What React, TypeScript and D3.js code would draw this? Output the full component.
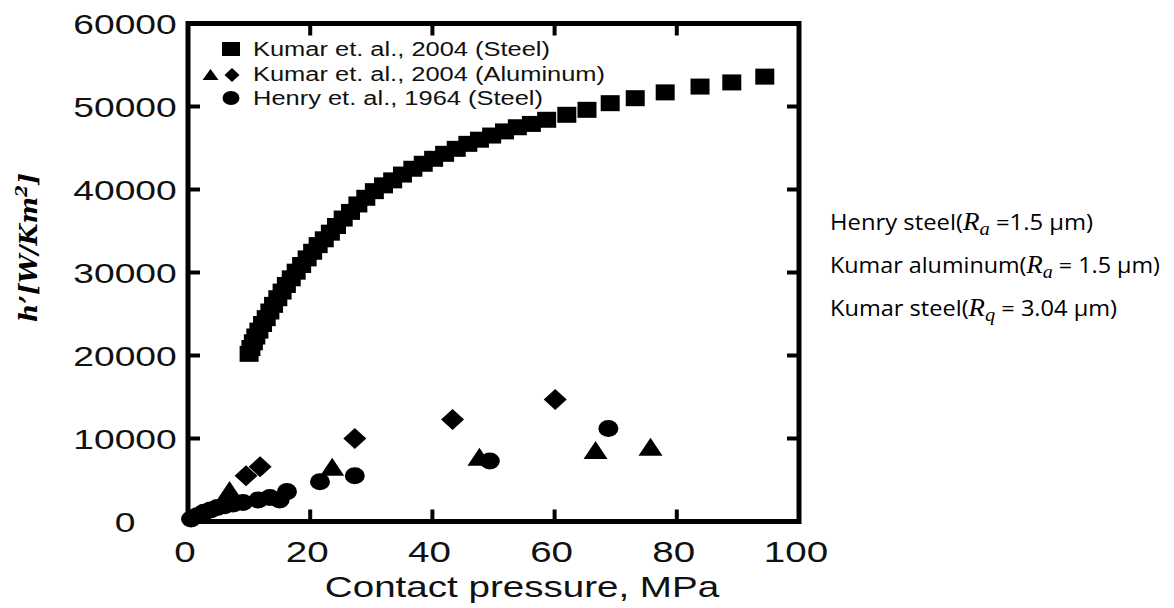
import React from 'react';
import * as d3 from 'd3';

const xTicks = [0, 20, 40, 60, 80, 100];
const yTicks = [0, 10000, 20000, 30000, 40000, 50000, 60000];

const kumarSteelP = [10.0, 10.3, 10.7, 11.1, 11.6, 12.2, 12.8, 13.4, 14.0, 14.7, 15.4, 16.1, 16.9, 17.7, 18.6, 19.5, 20.4, 21.3, 22.3, 23.3, 24.3, 25.4, 26.6, 27.8, 29.1, 30.5, 32.0, 33.5, 35.1, 36.8, 38.5, 40.2, 42.0, 43.9, 45.8, 47.7, 49.7, 51.8, 53.9, 56.2, 58.7, 62.0, 65.3, 69.1, 73.2, 78.1, 83.8, 89.0, 94.4];
const kumarSteelH = [20200, 20900, 21600, 22300, 23000, 23800, 24500, 25300, 26100, 26900, 27700, 28500, 29300, 30100, 30900, 31700, 32500, 33300, 34000, 34800, 35600, 36500, 37300, 38200, 39000, 39800, 40500, 41100, 41800, 42500, 43100, 43700, 44300, 44900, 45500, 46000, 46500, 47000, 47500, 47900, 48400, 49000, 49600, 50400, 51000, 51700, 52400, 52900, 53600];

const kumarAlTriP = [6.8, 23.6, 47.7, 66.7, 75.7];
const kumarAlTriH = [3800, 6600, 7800, 8600, 9000];

const kumarAlDiaP = [9.5, 11.8, 27.3, 43.3, 60.1];
const kumarAlDiaH = [5500, 6600, 10000, 12300, 14700];

const henryP = [0.5, 1.5, 2.6, 3.7, 4.8, 6.0, 7.4, 9.0, 11.5, 13.4, 15.0, 16.2, 21.6, 27.3, 49.4, 68.8];
const henryH = [300, 700, 1100, 1400, 1700, 1900, 2100, 2300, 2600, 2900, 2600, 3600, 4800, 5500, 7300, 11200];

const legendLabels = ['Kumar et. al., 2004 (Steel)', 'Kumar et. al., 2004 (Aluminum)', 'Henry et. al., 1964 (Steel)'];
const legendLengths = [297, 352, 290];

const xTitle = 'Contact pressure, MPa';

const sqPath = (cx: number, cy: number, w: number, h: number) =>
  `M${cx - w / 2},${cy - h / 2}h${w}v${h}h${-w}Z`;
const triPath = (cx: number, cy: number, w: number, h: number) =>
  `M${cx},${cy - h / 2}L${cx + w / 2},${cy + h / 2}L${cx - w / 2},${cy + h / 2}Z`;
const diaPath = (cx: number, cy: number, w: number, h: number) =>
  `M${cx},${cy - h / 2}L${cx + w / 2},${cy}L${cx},${cy + h / 2}L${cx - w / 2},${cy}Z`;

export default function App() {
  const x = d3.scaleLinear().domain([0, 100]).range([188, 799]);
  const y = d3.scaleLinear().domain([0, 60000]).range([521.5, 23.5]);
  const sans = 'Liberation Sans, Arial, sans-serif';
  const stretch = 1.33;
  const innerX = xTicks.filter((t) => t > 0 && t < 100);
  const innerY = yTicks.filter((t) => t > 0 && t < 60000);
  const tl = 12;

  return (
    <svg width={1174} height={608} style={{ position: 'absolute', left: 0, top: 0, background: '#fff' }}>
      <rect x={0} y={0} width={1174} height={608} fill="#fff" />
      {/* frame */}
      <rect x={x(0)} y={y(60000)} width={x(100) - x(0)} height={y(0) - y(60000)} fill="none" stroke="#000" strokeWidth={5} />
      {innerX.map((t) => (
        <g key={'xt' + t}>
          <line x1={x(t)} x2={x(t)} y1={y(0)} y2={y(0) - tl} stroke="#000" strokeWidth={4} />
          <line x1={x(t)} x2={x(t)} y1={y(60000)} y2={y(60000) + tl} stroke="#000" strokeWidth={4} />
        </g>
      ))}
      {innerY.map((t) => (
        <g key={'yt' + t}>
          <line x1={x(0)} x2={x(0) + tl} y1={y(t)} y2={y(t)} stroke="#000" strokeWidth={4} />
          <line x1={x(100)} x2={x(100) - tl} y1={y(t)} y2={y(t)} stroke="#000" strokeWidth={4} />
        </g>
      ))}
      {/* tick labels */}
      {yTicks.map((t) => (
        <text key={'yl' + t} transform={`translate(125,${y(t) + 10}) scale(${stretch},1)`} textAnchor="middle" fontFamily={sans} fontSize={28} fill="#111">
          {t}
        </text>
      ))}
      {xTicks.map((t) => (
        <text key={'xl' + t} transform={`translate(${x(t) - 3},562) scale(${stretch},1)`} textAnchor="middle" fontFamily={sans} fontSize={29} fill="#111">
          {t}
        </text>
      ))}
      <text transform={`translate(522,597) scale(${stretch},1)`} textAnchor="middle" fontFamily={sans} fontSize={29} fill="#111">
        {xTitle}
      </text>
      {/* y title */}
      <text transform="translate(37,247.5) rotate(-90)" textAnchor="middle" fontFamily="DejaVu Serif, serif" fontStyle="italic" fontWeight="bold" fontSize={25} textLength={149} lengthAdjust="spacingAndGlyphs">
        h’[W/Km<tspan fontSize={17} dy={-10}>2</tspan><tspan dy={10}>]</tspan>
      </text>
      {/* data */}
      {kumarSteelP.map((p, i) => (
        <path key={'ks' + i} d={sqPath(x(p), y(kumarSteelH[i]), 19, 16)} fill="#000" />
      ))}
      {henryP.map((p, i) => (
        <ellipse key={'hc' + i} cx={x(p)} cy={y(henryH[i])} rx={10} ry={8.5} fill="#000" />
      ))}
      {kumarAlDiaP.map((p, i) => (
        <path key={'kd' + i} d={diaPath(x(p), y(kumarAlDiaH[i]), 23, 21)} fill="#000" />
      ))}
      {kumarAlTriP.map((p, i) => (
        <path key={'kt' + i} d={triPath(x(p), y(kumarAlTriH[i]), 24, 18)} fill="#000" />
      ))}
      {/* legend */}
      <path d={sqPath(231, 49, 18, 14)} fill="#000" />
      <path d={triPath(210.5, 74.5, 16, 11)} fill="#000" />
      <path d={diaPath(232, 75, 15, 14)} fill="#000" />
      <ellipse cx={231} cy={98} rx={8.5} ry={7} fill="#000" />
      {legendLabels.map((l, i) => (
        <text key={'lg' + i} x={253} y={56 + i * 24.5} fontFamily={sans} fontSize={20} fill="#111" textLength={legendLengths[i]} lengthAdjust="spacingAndGlyphs">
          {l}
        </text>
      ))}
      {/* right annotations */}
      <text x={830} y={229.5} fontFamily="Open Sans, sans-serif" fontSize={22} fill="#000" textLength={263} lengthAdjust="spacingAndGlyphs">
        {'Henry steel('}
        <tspan fontFamily="Liberation Serif, serif" fontStyle="italic" fontSize={25}>R</tspan>
        <tspan fontFamily="Liberation Serif, serif" fontStyle="italic" fontSize={19} dy={5}>a</tspan>
        <tspan dy={-5}>{' =1.5 μm)'}</tspan>
      </text>
      <text x={830} y={272.5} fontFamily="Open Sans, sans-serif" fontSize={22} fill="#000" textLength={330} lengthAdjust="spacingAndGlyphs">
        {'Kumar aluminum('}
        <tspan fontFamily="Liberation Serif, serif" fontStyle="italic" fontSize={25}>R</tspan>
        <tspan fontFamily="Liberation Serif, serif" fontStyle="italic" fontSize={19} dy={5}>a</tspan>
        <tspan dy={-5}>{' = 1.5 μm)'}</tspan>
      </text>
      <text x={830} y={315.5} fontFamily="Open Sans, sans-serif" fontSize={22} fill="#000" textLength={287} lengthAdjust="spacingAndGlyphs">
        {'Kumar steel('}
        <tspan fontFamily="Liberation Serif, serif" fontStyle="italic" fontSize={25}>R</tspan>
        <tspan fontFamily="Liberation Serif, serif" fontStyle="italic" fontSize={19} dy={5}>q</tspan>
        <tspan dy={-5}>{' = 3.04 μm)'}</tspan>
      </text>
    </svg>
  );
}
